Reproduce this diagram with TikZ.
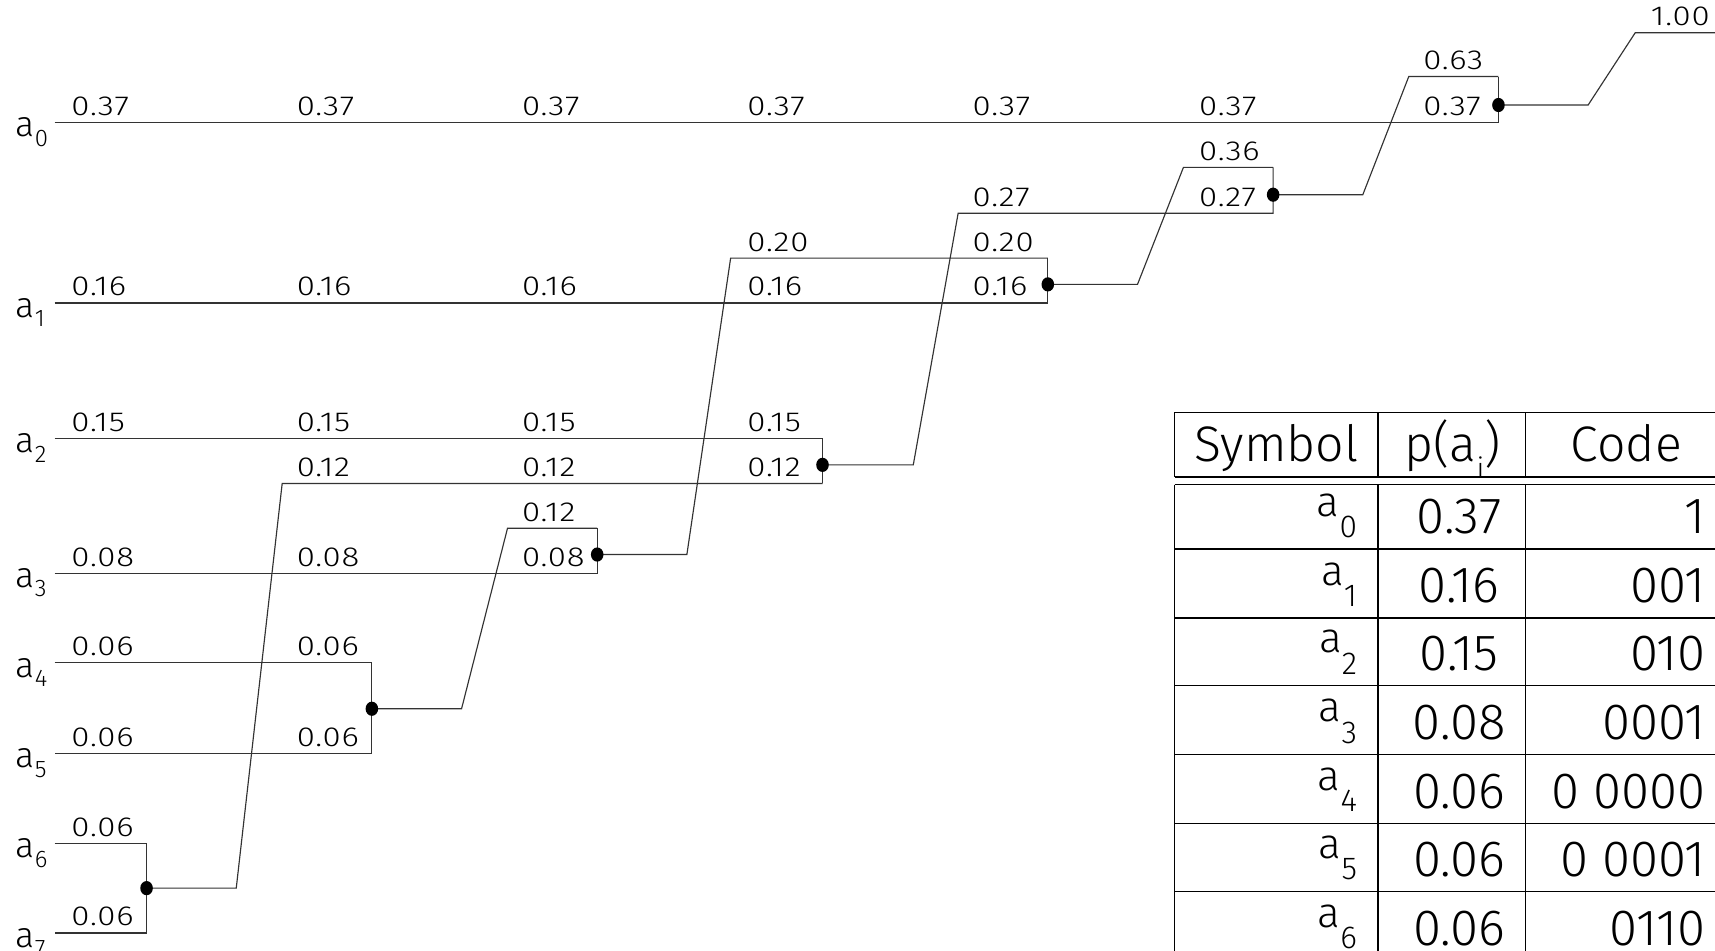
\documentclass[tikz,border=0pt]{standalone}
\usepackage{fontspec}
\usepackage{graphicx}
\usetikzlibrary{shapes.geometric}
\setmainfont{Fira Sans Light}
\newfontfamily\lblfont{Fira Sans Light}[FakeStretch=1.2, LetterSpace=3]
\newcommand{\dsym}[1]{a\raisebox{-5pt}{\fontsize{12.5}{12.5}\selectfont #1}}
\newcommand{\tsym}[1]{{\fontsize{22}{24}\selectfont a}\raisebox{-11pt}{\fontsize{16.5}{17}\selectfont #1}}
\begin{document}
\begin{tikzpicture}[x=0.02cm,y=-0.02cm,
  wire/.style={line width=0.6pt, draw=black!80},
  lbl/.style={anchor=base west, inner sep=0pt, font=\lblfont\fontsize{14.3}{16}\selectfont},
  symlbl/.style={anchor=base west, inner sep=0pt, font=\fontsize{18.5}{20}\selectfont},
  jdot/.style={ellipse, fill=black, inner sep=0pt, minimum width=0.23cm, minimum height=0.26cm},
  tline/.style={line width=0.7pt, draw=black},
  thead/.style={anchor=base, inner sep=0pt, font=\fontsize{26}{28}\selectfont},
  tcell/.style={inner sep=0pt, font=\fontsize{26.5}{28}\selectfont},
]
\useasboundingbox (0,0) rectangle (1568,869);
\clip (0,0) rectangle (1568,869);

% row starts
\coordinate (s0) at (50,112);
\coordinate (s1) at (50,277);
\coordinate (s2) at (50,401);
\coordinate (s3) at (50,524);
\coordinate (s4) at (50,606);
\coordinate (s5) at (50,689);
\coordinate (s6) at (50,771);
\coordinate (s7) at (50,853);

% symbol labels
\foreach \i/\y in {0/112,1/277,2/401,3/524,4/606,5/689,6/771,7/853}
  \node[symlbl] (sym\i) at (14,\y+13) {\dsym{\i}};

% junction a6+a7
\coordinate (b6) at (134,771); \coordinate (b7) at (134,853);
\coordinate (j67) at (134,812);
\draw[wire] (s6) -- (b6) -- (b7) -- (s7);
\coordinate (k67) at (216,812); \coordinate (u67) at (258,442); \coordinate (b67) at (752,442);
% junction a4+a5
\coordinate (b4) at (340,606); \coordinate (b5) at (340,689);
\coordinate (j45) at (340,648);
\draw[wire] (s4) -- (b4) -- (b5) -- (s5);
\coordinate (k45) at (422,648); \coordinate (u45) at (464,483); \coordinate (b45) at (546,483);
% junction a3
\coordinate (b3) at (546,524);
\coordinate (j3) at (546,507);
\draw[wire] (s3) -- (b3) -- (b45);
\draw[wire] (j45) -- (k45) -- (u45) -- (b45);
\coordinate (k3) at (628,507); \coordinate (u3) at (668,236); \coordinate (b3o) at (958,236);
% junction a2
\coordinate (b2) at (752,401);
\coordinate (j2) at (752,425);
\draw[wire] (s2) -- (b2) -- (b67);
\draw[wire] (j67) -- (k67) -- (u67) -- (b67);
\coordinate (k2) at (835,425); \coordinate (u2) at (876,195); \coordinate (b2o) at (1164,195);
% junction a1
\coordinate (b1) at (958,277);
\coordinate (j1) at (958,260);
\draw[wire] (s1) -- (b1) -- (b3o);
\draw[wire] (j3) -- (k3) -- (u3) -- (b3o);
\coordinate (k1) at (1040,260); \coordinate (u1) at (1082,153); \coordinate (b1o) at (1164,153);
% junction 0.36/0.27
\coordinate (j0) at (1164,178);
\draw[wire] (j2) -- (k2) -- (u2) -- (b2o) -- (b1o);
\draw[wire] (j1) -- (k1) -- (u1) -- (b1o);
\coordinate (k0) at (1246,178); \coordinate (u0) at (1288,70); \coordinate (b0o) at (1370,70);
% final junction
\coordinate (bA) at (1370,112);
\coordinate (jf) at (1370,96);
\draw[wire] (s0) -- (bA) -- (b0o);
\draw[wire] (j0) -- (k0) -- (u0) -- (b0o);
\coordinate (kf) at (1452,96); \coordinate (uf) at (1495,30); \coordinate (ef) at (1600,30);
\draw[wire] (jf) -- (kf) -- (uf) -- (ef);

% dots
\foreach \j in {j67,j45,j3,j2,j1,j0,jf}
  \node[jdot] (d\j) at (\j) {};

% probability labels
\foreach \x [count=\n] in {65,271,477,683,889,1096,1301} \node[lbl] (la\n) at (\x,105.5) {0.37};
\foreach \x [count=\n] in {65,271,477,683,889} \node[lbl] (lb\n) at (\x,270.5) {0.16};
\foreach \x [count=\n] in {683,889} \node[lbl] (lc\n) at (\x,229.5) {0.20};
\foreach \x [count=\n] in {889,1096} \node[lbl] (ld\n) at (\x,188.5) {0.27};
\node[lbl] (le) at (1096,146.5) {0.36};
\node[lbl] (lf) at (1301,63.5) {0.63};
\node[lbl] (lg) at (1509,23.5) {1.00};
\foreach \x [count=\n] in {65,271,477,683} \node[lbl] (lh\n) at (\x,394.5) {0.15};
\foreach \x [count=\n] in {271,477,683} \node[lbl] (li\n) at (\x,435.5) {0.12};
\node[lbl] (lj) at (477,476.5) {0.12};
\foreach \x [count=\n] in {65,271,477} \node[lbl] (lk\n) at (\x,517.5) {0.08};
\foreach \x [count=\n] in {65,271} \node[lbl] (ll\n) at (\x,599.5) {0.06};
\foreach \x [count=\n] in {65,271} \node[lbl] (lm\n) at (\x,682.5) {0.06};
\node[lbl] (ln) at (65,764.5) {0.06};
\node[lbl] (lo) at (65,846.5) {0.06};

% table
\draw[tline] (1074,377) -- (1600,377);
\draw[tline] (1074,436) -- (1600,436);
\draw[tline] (1074,443) -- (1600,443);
\foreach \y in {502,565,627,690,753,815} \draw[tline] (1074,\y) -- (1600,\y);
\foreach \x in {1074,1260,1395} {
  \draw[tline] (\x,377) -- (\x,436);
  \draw[tline] (\x,443) -- (\x,890);
}
\node[thead] (hS) at (1167,422) {Symbol};
\node[thead] (hP) at (1328,422) {p(a\raisebox{-9pt}{\fontsize{15}{15}\selectfont i})};
\node[thead] (hC) at (1487,422) {Code};
\foreach \i/\p/\c/\yb in {0/0.37/1/488, 1/0.16/001/551, 2/0.15/010/613, 3/0.08/0001/676, 4/0.06/0 0000/739, 5/0.06/0 0001/801, 6/0.06/0110/864} {
  \node[tcell, anchor=base east] (ts\i) at (1241,\yb-16) {\tsym{\i}};
  \node[tcell, anchor=base] (tp\i) at (1334,\yb) {\p};
  \node[tcell, anchor=base east] (tc\i) at (1560,\yb) {\c};
}
\end{tikzpicture}
\end{document}
